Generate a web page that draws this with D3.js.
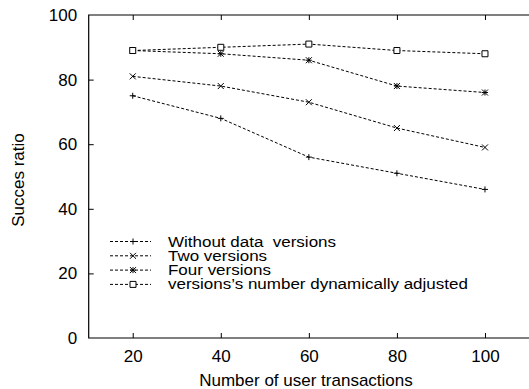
<!DOCTYPE html>
<html><head><meta charset="utf-8">
<script src="https://cdn.jsdelivr.net/npm/d3@7"></script>
<style>body{margin:0;background:#fff}svg{display:block;font-family:"Liberation Sans",Arial,sans-serif}</style>
</head><body><svg id="c" width="529" height="389"></svg>
<script>
const xValues = [20, 40, 60, 80, 100];
const withoutVersions = [75, 68, 56, 51, 46];
const twoVersions = [81, 78, 73, 65, 59];
const fourVersions = [89, 88, 86, 78, 76];
const dynamicVersions = [89, 90, 91, 89, 88];
const seriesNames = ["Without data  versions", "Two versions", "Four versions", "versions\u2019s number dynamically adjusted"];
const xTicks = [20, 40, 60, 80, 100];
const yTicks = [0, 20, 40, 60, 80, 100];

const series = [withoutVersions, twoVersions, fourVersions, dynamicVersions];
const markers = ["plus", "cross", "star", "square"];
const FS = 17, LFS = 12.7;

const svg = d3.select("#c");
const L = 88.7, R = 529, T = 15, B = 338;
const x = d3.scaleLinear().domain([10, 110]).range([L, R]);
const y = d3.scaleLinear().domain([0, 100]).range([B, T]);

svg.append("path").attr("d", `M${R+1},${T}H${L}V${B}H${R+1}`).attr("fill","none").attr("stroke","#000").attr("stroke-width",1.2);

const xa = svg.append("g").attr("transform",`translate(0,${B})`).call(d3.axisBottom(x).tickValues(xTicks).tickSize(-5).tickPadding(12));
const xt = svg.append("g").attr("transform",`translate(0,${T})`).call(d3.axisTop(x).tickValues(xTicks).tickSize(-5).tickFormat(""));
const ya = svg.append("g").attr("transform",`translate(${L},0)`).call(d3.axisLeft(y).tickValues(yTicks).tickSize(-5).tickPadding(11.5));
[xa,xt,ya].forEach(g=>{g.select(".domain").remove(); g.selectAll("line").attr("stroke","#000");
  g.selectAll("text").attr("font-size",FS).attr("fill","#000").attr("font-family","Liberation Sans, Arial, sans-serif");});
ya.selectAll("line").filter(d=>d===0||d===100).remove();

svg.append("text").attr("x",306).attr("y",386).attr("text-anchor","middle").attr("font-size",FS).text("Number of user transactions");
svg.append("text").attr("transform","translate(24,180) rotate(-90)").attr("text-anchor","middle").attr("font-size",FS).text("Succes ratio");

function marker(g, type, cx, cy){
  const s = 3;
  let d;
  if(type==="plus") d=`M${cx-s},${cy}H${cx+s}M${cx},${cy-s}V${cy+s}`;
  else if(type==="cross") d=`M${cx-s},${cy-s}L${cx+s},${cy+s}M${cx-s},${cy+s}L${cx+s},${cy-s}`;
  else if(type==="star") d=`M${cx-s},${cy}H${cx+s}M${cx},${cy-s}V${cy+s}M${cx-s},${cy-s}L${cx+s},${cy+s}M${cx-s},${cy+s}L${cx+s},${cy-s}`;
  else d=`M${cx-s},${cy-s}H${cx+s}V${cy+s}H${cx-s}Z`;
  g.append("path").attr("d",d).attr("fill", type==="square"?"#fff":"none").attr("stroke","#000").attr("stroke-width",1);
}

const line = d3.line().x((d,i)=>x(xValues[i])).y(d=>y(d));
const LY0 = 241.5, LDY = 14.3;
series.forEach((s,k)=>{
  const g = svg.append("g");
  g.append("path").datum(s).attr("d",line).attr("fill","none").attr("stroke","#000").attr("stroke-width",1).attr("stroke-dasharray","3,2");
  s.forEach((v,i)=>marker(g, markers[k], x(xValues[i]), y(v)));
  const ly = LY0 + k*LDY;
  g.append("line").attr("x1",110).attr("x2",151).attr("y1",ly).attr("y2",ly).attr("stroke","#000").attr("stroke-dasharray","3,2");
  marker(g, markers[k], 133, ly);
  g.append("text").attr("transform",`translate(168,${ly+5}) scale(${FS/LFS},1.12)`)
    .attr("font-size",LFS).style("white-space","pre").text(seriesNames[k]);
});
</script></body></html>
